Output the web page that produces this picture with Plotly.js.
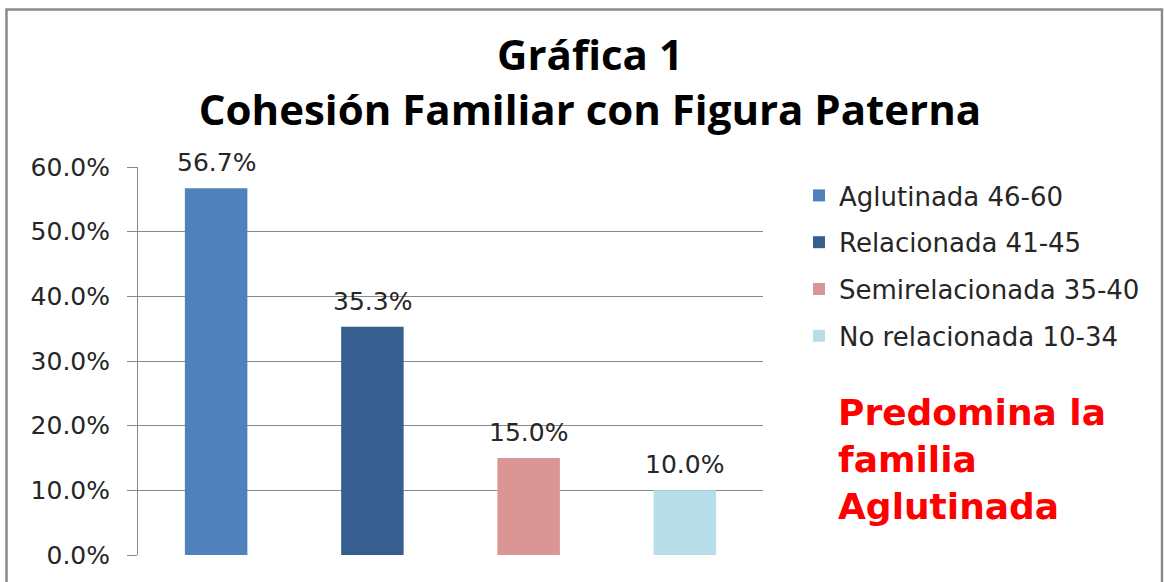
<!DOCTYPE html>
<html>
<head>
<meta charset="utf-8">
<script src="https://cdn.plot.ly/plotly-3.0.1.min.js"></script>
<style>
  html, body { margin: 0; padding: 0; background: #fff; }
  #chart { width: 1164px; height: 582px; }
</style>
</head>
<body>
<div id="chart"></div>
<script>
const categories = ["Aglutinada 46-60", "Relacionada 41-45", "Semirelacionada 35-40", "No relacionada 10-34"];
const values = [56.7, 35.3, 15.0, 10.0];
const colors = ["#4F81BD", "#365E8F", "#D99694", "#B7DDE8"];
const yTicks = [0, 10, 20, 30, 40, 50, 60];
const titleLines = ["Gráfica 1", "Cohesión Familiar con Figura Paterna"];
const noteLines = ["Predomina la", "familia", "Aglutinada"];

const traces = categories.map((c, i) => ({
  type: "bar",
  name: c,
  x: [c],
  y: [values[i]],
  width: 0.4,
  marker: { color: colors[i] },
  legendgroup: "g" + i,
  hoverinfo: "none"
}));

const toPx = (px) => (px - 138) / 625;
const toPy = (py) => (555 - py) / 388;

const labelAnns = categories.map((c, i) => ({
  x: c, y: values[i], xref: "x", yref: "y",
  text: values[i].toFixed(1) + "%",
  showarrow: false, yanchor: "bottom", yshift: 9,
  font: { family: "DejaVu Sans", size: 25, color: "#262626" }
}));

const layout = {
  width: 1164, height: 582,
  margin: { l: 138, r: 401, t: 167, b: 27 },
  paper_bgcolor: "#ffffff", plot_bgcolor: "#ffffff",
  barmode: "overlay",
  showlegend: true,
  title: {
    text: titleLines.join("<br>"),
    x: 590 / 1164, xref: "container", xanchor: "center",
    y: 1 - 70 / 582, yref: "container", yanchor: "top",
    font: { family: "Open Sans", size: 42, color: "#000000", weight: "bold" }
  },
  xaxis: {
    type: "category",
    categoryorder: "array", categoryarray: categories,
    showticklabels: false, ticks: "", showgrid: false,
    showline: false, zeroline: false, fixedrange: true
  },
  yaxis: {
    range: [0, 60],
    tickvals: yTicks,
    ticktext: yTicks.map(v => v.toFixed(1) + "%"),
    ticks: "outside", ticklen: 10, tickcolor: "#888888", tickwidth: 1,
    ticklabelstandoff: 12,
    showline: true, linecolor: "#888888", linewidth: 1,
    showgrid: true, gridcolor: "#888888", gridwidth: 1,
    zeroline: false,
    tickfont: { family: "DejaVu Sans", size: 25, color: "#262626" },
    fixedrange: true
  },
  legend: {
    x: toPx(799), xanchor: "left",
    y: toPy(172), yanchor: "top",
    font: { family: "DejaVu Sans", size: 26, color: "#262626" },
    tracegroupgap: 10,
    bgcolor: "rgba(0,0,0,0)"
  },
  shapes: [{
    type: "rect", xref: "paper", yref: "paper", layer: "below",
    x0: toPx(6.5), x1: toPx(1162), y0: toPy(600), y1: toPy(9.5),
    line: { color: "#8a8a8a", width: 2.5 }, fillcolor: "rgba(0,0,0,0)"
  }],
  annotations: labelAnns.concat([{
    xref: "paper", yref: "paper",
    x: toPx(836), xanchor: "left",
    y: toPy(459), yanchor: "middle",
    align: "left",
    text: noteLines.join("<br>"),
    showarrow: false,
    font: { family: "DejaVu Sans", size: 36, color: "#FF0000", weight: "bold" }
  }])
};

Plotly.newPlot("chart", traces, layout, { displayModeBar: false, staticPlot: true });
</script>
</body>
</html>
